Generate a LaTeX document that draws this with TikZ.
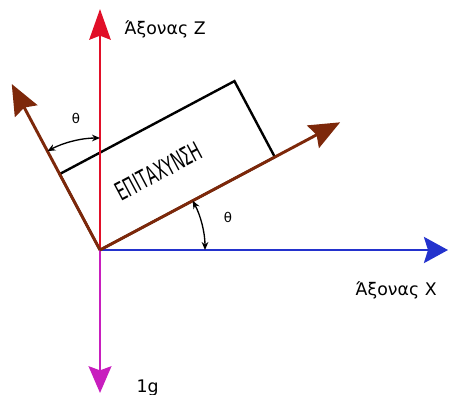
\documentclass[tikz,border=0pt]{standalone}
\usepackage{fontspec}
\setmainfont{DejaVu Sans}
\usetikzlibrary{arrows.meta, calc}

\definecolor{axisred}{RGB}{225,15,40}
\definecolor{axisblue}{RGB}{35,50,205}
\definecolor{axismag}{RGB}{200,30,190}
\definecolor{tiltbrown}{RGB}{125,40,10}

\begin{document}
\begin{tikzpicture}[x=0.75pt, y=0.75pt,
    tilt/.style={tiltbrown, line width=2.2pt, -{Stealth[length=23pt, width=19pt, inset=3pt]}},
    anglearc/.style={black, line width=1pt,
      {Stealth[length=6pt, width=5pt]}-{Stealth[length=6pt, width=5pt]}},
    axislabel/.style={font=\fontsize{13}{15}\selectfont, anchor=base west},
    thetalabel/.style={font=\fontsize{10}{12}\selectfont}]
  \def\Th{28}
  \useasboundingbox (0,0) rectangle (449,394);

  % --- origin and tips ---
  \coordinate (O) at (100,144);
  \coordinate (zTip) at (100,385);
  \coordinate (gTip) at (100,1);
  \coordinate (xTip) at (448,144);
  \coordinate (uTip) at ($(O)+(\Th:272)$);
  \coordinate (vTip) at ($(O)+(90+\Th:188)$);

  % --- tilted box ---
  \begin{scope}[shift={(O)}, rotate=\Th]
    \draw[black, line width=1.8pt] (0,0) rectangle (198,86);
    \node[transform shape, font=\fontsize{19}{21}\selectfont] (accel) at (89,42)
      {\scalebox{0.58}[1]{ΕΠΙΤΑΧΥΝΣΗ}};
  \end{scope}

  % --- fixed axes ---
  \draw[axisred, line width=2pt, -{Stealth[length=23pt, width=16pt, inset=3pt]}] (O) -- (zTip);
  \draw[axismag, line width=2pt, -{Stealth[length=20pt, width=17pt, inset=3pt]}] (O) -- (gTip);
  \draw[axisblue, line width=2.2pt, -{Stealth[length=18pt, width=19.5pt, inset=3pt]}] (O) -- (xTip);

  % --- tilted axes ---
  \draw[tilt] (O) -- (uTip);
  \draw[tilt] (O) -- (vTip);

  % --- angles ---
  \draw[anglearc] ($(O)+(90+\Th:112)$) arc[start angle=90+\Th, end angle=90, radius=112];
  \draw[anglearc] ($(O)+(\Th:105)$) arc[start angle=\Th, end angle=0, radius=105];
  \node[thetalabel] (thetaZ) at (76,276) {θ};
  \node[thetalabel] (thetaX) at (228,177) {θ};

  % --- labels ---
  \node[axislabel] (zLabel) at (120,360) {Άξονας Z};
  \node[axislabel] (xLabel) at (351,99) {Άξονας X};
  \node[axislabel] (gLabel) at (132,2) {1g};

\end{tikzpicture}
\end{document}
